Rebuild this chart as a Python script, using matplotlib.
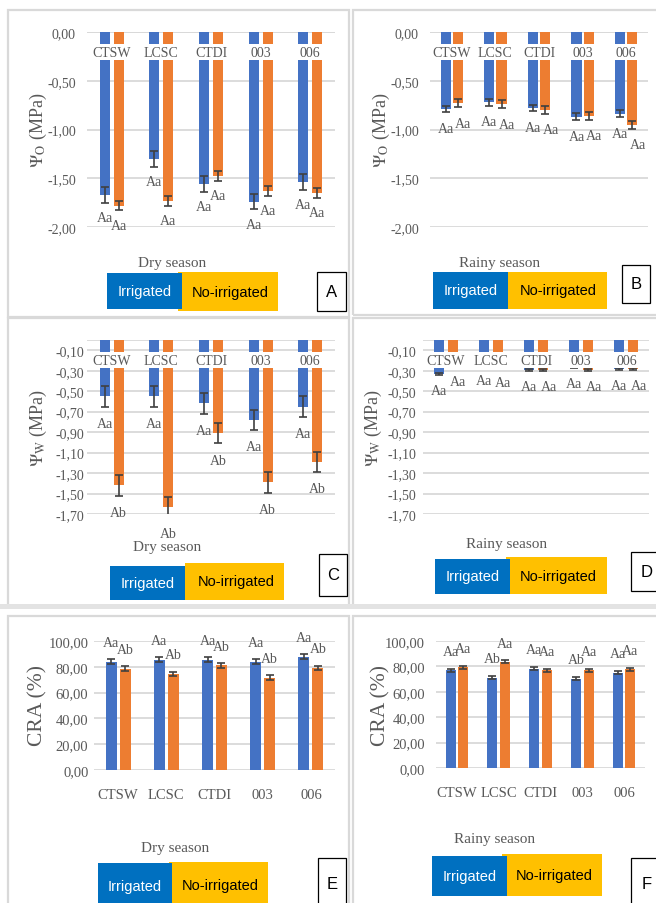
import numpy as np
import matplotlib.pyplot as plt
from matplotlib.patches import Rectangle
from matplotlib.ticker import FuncFormatter

plt.rcParams['font.family'] = ['Liberation Serif', 'DejaVu Serif']
plt.rcParams['mathtext.fontset'] = 'stix'

W, H = 656, 904

cultivars = ['CTSW', 'LCSC', 'CTDI', '003', '006']

# potencial osmotico (MPa)
psi_o_dry_irr = [-1.67, -1.30, -1.56, -1.74, -1.54]
psi_o_dry_irr_err = [0.08, 0.08, 0.08, 0.08, 0.08]
psi_o_dry_no = [-1.78, -1.73, -1.48, -1.63, -1.65]
psi_o_dry_no_err = [0.05, 0.05, 0.05, 0.05, 0.05]
psi_o_rain_irr = [-0.79, -0.72, -0.78, -0.87, -0.84]
psi_o_rain_irr_err = [0.035, 0.035, 0.035, 0.035, 0.035]
psi_o_rain_no = [-0.73, -0.74, -0.80, -0.86, -0.95]
psi_o_rain_no_err = [0.04, 0.04, 0.04, 0.04, 0.04]

# potencial hidrico (MPa)
psi_w_dry_irr = [-0.55, -0.55, -0.62, -0.78, -0.65]
psi_w_dry_irr_err = [0.10, 0.10, 0.10, 0.10, 0.10]
psi_w_dry_no = [-1.42, -1.63, -0.91, -1.39, -1.19]
psi_w_dry_no_err = [0.10, 0.10, 0.10, 0.10, 0.10]
psi_w_rain_irr = [-0.33, -0.23, -0.29, -0.26, -0.28]
psi_w_rain_irr_err = [0.01, 0.01, 0.01, 0.01, 0.01]
psi_w_rain_no = [-0.24, -0.25, -0.29, -0.29, -0.28]
psi_w_rain_no_err = [0.01, 0.01, 0.01, 0.01, 0.01]

# conteudo relativo de agua (%)
cra_dry_irr = [83.8, 85.6, 85.6, 83.8, 87.9]
cra_dry_irr_err = [2.0, 2.0, 2.0, 2.0, 2.0]
cra_dry_no = [78.6, 74.5, 81.2, 71.5, 79.2]
cra_dry_no_err = [1.8, 1.8, 1.8, 1.8, 1.8]
cra_rain_irr = [76.8, 71.2, 78.3, 70.4, 75.1]
cra_rain_irr_err = [1.2, 1.2, 1.2, 1.2, 1.2]
cra_rain_no = [79.4, 83.5, 76.8, 76.8, 77.6]
cra_rain_no_err = [1.2, 1.2, 1.2, 1.2, 1.2]

# letras de significancia
let_a_irr = ['Aa'] * 5
let_a_no = ['Aa'] * 5
let_b_irr = ['Aa'] * 5
let_b_no = ['Aa'] * 5
let_c_irr = ['Aa'] * 5
let_c_no = ['Ab'] * 5
let_d_irr = ['Aa'] * 5
let_d_no = ['Aa'] * 5
let_e_irr = ['Aa'] * 5
let_e_no = ['Ab'] * 5
let_f_irr = ['Aa', 'Ab', 'Aa', 'Ab', 'Aa']
let_f_no = ['Aa'] * 5

BLUE = '#4472C4'
ORANGE = '#ED7D31'
GRID = '#D9D9D9'
TXT = '#595959'
SANS = ['Liberation Sans Narrow', 'Liberation Sans']

fig = plt.figure(figsize=(W / 100, H / 100), dpi=100)


def fx(x):
    return x / W


def fy(y):
    return 1 - y / H


def px_rect(x0, y0, x1, y1):
    return [fx(x0), fy(y1), (x1 - x0) / W, (y1 - y0) / H]


def comma(v, _):
    if abs(v) < 1e-9:
        v = 0.0
    return f'{v:.2f}'.replace('.', ',')


# bordas dos paineis
for x0, y0, x1, y1 in [(8, 11, 349, 318), (353, 11, 660, 316),
                       (8, 319, 349, 607), (353, 319, 660, 607),
                       (8, 617, 349, 910), (353, 617, 660, 910)]:
    fig.patches.append(Rectangle((fx(x0), fy(y1)), (x1 - x0) / W, (y1 - y0) / H,
                                 transform=fig.transFigure, fc='none',
                                 ec=GRID, lw=1.6))
fig.patches.append(Rectangle((0, fy(610)), 1, 5 / H, transform=fig.transFigure,
                             fc='#E3E3E3', ec='none'))


def panel(box, irr, irr_err, no, no_err, let_irr, let_no, ylim, yticks,
          width, off, lab_pt, lab_dx, negative=True, tick_pad=8, tick_size=10):
    ax = fig.add_axes(px_rect(*box))
    x = np.arange(len(cultivars))
    ax.bar(x - off, irr, width, color=BLUE, zorder=2)
    ax.bar(x + off, no, width, color=ORANGE, zorder=2)
    ek = dict(fmt='none', ecolor='#404040', elinewidth=1.2, capsize=3,
              capthick=1.2, zorder=3)
    ax.errorbar(x - off, irr, yerr=irr_err, **ek)
    ax.errorbar(x + off, no, yerr=no_err, **ek)

    sign = -1 if negative else 1
    for i in range(len(cultivars)):
        ax.annotate(let_irr[i], (x[i] - off, irr[i] + sign * irr_err[i]),
                    xytext=(0, sign * lab_pt), textcoords='offset points',
                    ha='center', va='center', fontsize=10, color=TXT,
                    annotation_clip=False)
        ax.annotate(let_no[i], (x[i] + off, no[i] + sign * no_err[i]),
                    xytext=(lab_dx, sign * lab_pt), textcoords='offset points',
                    ha='center', va='center', fontsize=10, color=TXT,
                    annotation_clip=False)

    ax.set_xlim(-0.5, len(cultivars) - 0.5)
    ax.set_ylim(*ylim)
    ax.set_yticks(yticks)
    ax.yaxis.set_major_formatter(FuncFormatter(comma))
    ax.yaxis.grid(True, color=GRID, lw=1.3)
    ax.set_axisbelow(True)
    for s in ax.spines.values():
        s.set_visible(False)
    ax.tick_params(axis='y', length=0, labelsize=tick_size, labelcolor=TXT,
                   pad=tick_pad)

    if negative:
        ax.axhline(0, color=GRID, lw=1.3, zorder=1)
        ax.set_xticks([])
        for i, name in enumerate(cultivars):
            ax.annotate(name, (x[i], 0), xytext=(0, -14.5),
                        textcoords='offset points', ha='center', va='center',
                        fontsize=10, color=TXT, zorder=5,
                        bbox=dict(boxstyle='square,pad=0.12', fc='white',
                                  ec='none'))
    else:
        ax.set_xticks(x)
        ax.set_xticklabels(cultivars)
        ax.tick_params(axis='x', length=0, labelsize=10.5, labelcolor=TXT,
                       pad=13)
    return ax


def legend_block(season, sx, sy, blue_box, orange_box, letter, letter_box):
    fig.text(fx(sx), fy(sy), season, ha='center', va='center', fontsize=11,
             color=TXT)
    for (x0, y0, x1, y1), fc, label, tc, dx in [
            (orange_box, '#FFC000', 'No-irrigated', 'black', 2),
            (blue_box, '#0070C0', 'Irrigated', 'white', 0)]:
        fig.patches.append(Rectangle((fx(x0), fy(y1)), (x1 - x0) / W,
                                     (y1 - y0) / H, transform=fig.transFigure,
                                     fc=fc, ec='none'))
        fig.text(fx((x0 + x1) / 2 + dx), fy((y0 + y1) / 2), label,
                 ha='center', va='center', fontsize=10.5, color=tc,
                 family=SANS)
    x0, y0, x1, y1 = letter_box
    fig.patches.append(Rectangle((fx(x0), fy(y1)), (x1 - x0) / W,
                                 (y1 - y0) / H, transform=fig.transFigure,
                                 fc='white', ec='black', lw=0.9))
    fig.text(fx((x0 + x1) / 2), fy((y0 + y1) / 2), letter, ha='center',
             va='center', fontsize=12, color='black', family=SANS)


def ylabel(text, x, y, size):
    fig.text(fx(x), fy(y), text, rotation=90, ha='center', va='center',
             fontsize=size, color=TXT)


yt_o = np.arange(-2.0, 0.01, 0.5)
yt_w = np.arange(-1.7, -0.09, 0.2)
yt_c = np.arange(0, 100.1, 20)

panel((87, 33, 335, 228), psi_o_dry_irr, psi_o_dry_irr_err, psi_o_dry_no,
      psi_o_dry_no_err, let_a_irr, let_a_no, (-2.0, 0), yt_o, 0.2, 0.14, 10.5, 0)
panel((430, 33, 648, 228), psi_o_rain_irr, psi_o_rain_irr_err, psi_o_rain_no,
      psi_o_rain_no_err, let_b_irr, let_b_no, (-2.0, 0), yt_o, 0.23, 0.14, 11.5, 4)
panel((87, 341, 335, 515), psi_w_dry_irr, psi_w_dry_irr_err, psi_w_dry_no,
      psi_w_dry_no_err, let_c_irr, let_c_no, (-1.7, 0), yt_w, 0.2, 0.14, 12, 0,
      tick_pad=2)
panel((423, 341, 649, 515), psi_w_rain_irr, psi_w_rain_irr_err, psi_w_rain_no,
      psi_w_rain_no_err, let_d_irr, let_d_no, (-1.7, 0), yt_w, 0.22, 0.155, 11.5, 4,
      tick_pad=5)
panel((94, 642, 335, 771), cra_dry_irr, cra_dry_irr_err, cra_dry_no,
      cra_dry_no_err, let_e_irr, let_e_no, (0, 100), yt_c, 0.23, 0.145, 12, 0,
      negative=False, tick_pad=4, tick_size=10.5)
panel((436, 642, 645, 769), cra_rain_irr, cra_rain_irr_err, cra_rain_no,
      cra_rain_no_err, let_f_irr, let_f_no, (0, 100), yt_c, 0.24, 0.15, 12.5, 0,
      negative=False, tick_pad=8, tick_size=10.5)

ylabel(r'$\Psi_{\mathrm{O}}$ (MPa)', 38, 130, 13)
ylabel(r'$\Psi_{\mathrm{O}}$ (MPa)', 381, 130, 13)
ylabel(r'$\Psi_{\mathrm{W}}$ (MPa)', 38, 428, 13)
ylabel(r'$\Psi_{\mathrm{W}}$ (MPa)', 373, 428, 13)
ylabel('CRA (%)', 38, 706, 15.5)
ylabel('CRA (%)', 381, 706, 15.5)

legend_block('Dry season', 172, 264, (107, 274, 182, 310), (178, 273, 278, 312),
             'A', (317, 273, 346, 312))
legend_block('Rainy season', 500, 263, (433, 273, 508, 310), (506, 273, 607, 310),
             'B', (622, 266, 650, 304))
legend_block('Dry season', 167, 548, (110, 567, 185, 601), (185, 564, 284, 601),
             'C', (319, 555, 347, 597))
legend_block('Rainy season', 507, 545, (435, 560, 510, 595), (506, 558, 607, 595),
             'D', (631, 553, 662, 592))
legend_block('Dry season', 175, 849, (98, 864, 172, 910), (169, 863, 268, 910),
             'E', (318, 859, 346, 910))
legend_block('Rainy season', 495, 840, (432, 857, 507, 897), (502, 855, 602, 897),
             'F', (631, 859, 662, 910))

fig.savefig('out.png', dpi=100)
